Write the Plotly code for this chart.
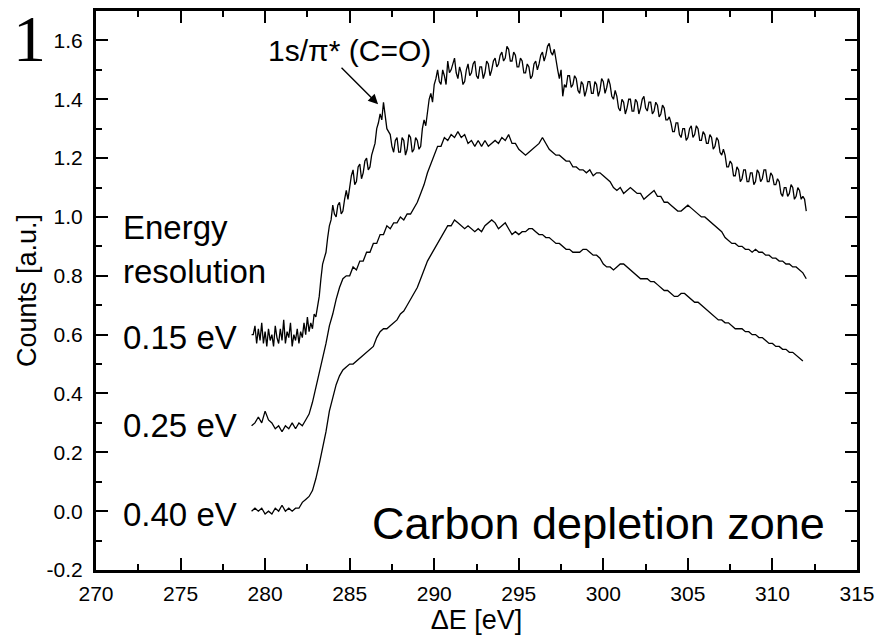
import numpy as np
import plotly.graph_objects as go

# ---------------- data ----------------
E_START = 279.2        # eV, first sample of every spectrum
E_STEP_015 = 0.1       # eV, reading step for the noisy 0.15 eV spectrum
E_STEP = 0.2           # eV, reading step for the two smoother spectra

# 0.15 eV energy resolution (top spectrum), 279.2 ... 312.0 eV
counts_015 = [
    0.60, 0.60, 0.63, 0.57, 0.62, 0.58, 0.64, 0.57, 0.61, 0.56,
    0.62, 0.58, 0.60, 0.56, 0.63, 0.59, 0.57, 0.62, 0.58, 0.65,
    0.57, 0.61, 0.59, 0.64, 0.56, 0.60, 0.58, 0.62, 0.57, 0.61,
    0.59, 0.64, 0.60, 0.66, 0.61, 0.64, 0.62, 0.67, 0.66, 0.70,
    0.73, 0.79, 0.84, 0.86, 0.88, 0.93, 0.97, 0.99, 1.04, 1.01,
    1.00, 1.04, 1.05, 1.01, 1.02, 1.06, 1.09, 1.06, 1.11, 1.14,
    1.16, 1.11, 1.12, 1.17, 1.18, 1.13, 1.15, 1.19, 1.20, 1.16,
    1.17, 1.21, 1.23, 1.25, 1.30, 1.32, 1.35, 1.33, 1.39, 1.34,
    1.30, 1.29, 1.28, 1.24, 1.22, 1.26, 1.27, 1.22, 1.22, 1.27,
    1.26, 1.21, 1.23, 1.28, 1.27, 1.22, 1.23, 1.27, 1.26, 1.23,
    1.24, 1.30, 1.33, 1.31, 1.36, 1.40, 1.42, 1.39, 1.45, 1.47,
    1.50, 1.46, 1.45, 1.50, 1.48, 1.45, 1.53, 1.49, 1.50, 1.52,
    1.54, 1.49, 1.47, 1.51, 1.49, 1.45, 1.46, 1.50, 1.52, 1.48,
    1.49, 1.52, 1.53, 1.48, 1.47, 1.51, 1.51, 1.47, 1.49, 1.53,
    1.52, 1.48, 1.50, 1.53, 1.54, 1.51, 1.52, 1.55, 1.56, 1.53,
    1.54, 1.58, 1.57, 1.53, 1.53, 1.56, 1.55, 1.51, 1.51, 1.54,
    1.53, 1.49, 1.49, 1.52, 1.51, 1.47, 1.48, 1.52, 1.53, 1.50,
    1.52, 1.55, 1.56, 1.53, 1.55, 1.58, 1.59, 1.56, 1.55, 1.57,
    1.53, 1.50, 1.47, 1.50, 1.41, 1.45, 1.44, 1.48, 1.48, 1.44,
    1.45, 1.48, 1.47, 1.43, 1.42, 1.46, 1.45, 1.41, 1.43, 1.46,
    1.46, 1.42, 1.42, 1.46, 1.45, 1.41, 1.43, 1.47, 1.46, 1.42,
    1.44, 1.47, 1.45, 1.41, 1.40, 1.43, 1.41, 1.37, 1.36, 1.40,
    1.39, 1.35, 1.37, 1.40, 1.40, 1.36, 1.36, 1.40, 1.39, 1.35,
    1.37, 1.40, 1.41, 1.37, 1.36, 1.39, 1.39, 1.35, 1.36, 1.39,
    1.38, 1.34, 1.35, 1.38, 1.37, 1.33, 1.33, 1.34, 1.32, 1.29,
    1.29, 1.32, 1.32, 1.28, 1.27, 1.30, 1.30, 1.26, 1.27, 1.30,
    1.31, 1.27, 1.28, 1.31, 1.30, 1.26, 1.26, 1.29, 1.28, 1.25,
    1.25, 1.28, 1.27, 1.23, 1.24, 1.27, 1.26, 1.22, 1.21, 1.23,
    1.21, 1.17, 1.17, 1.19, 1.18, 1.14, 1.14, 1.17, 1.16, 1.12,
    1.13, 1.16, 1.16, 1.12, 1.12, 1.15, 1.15, 1.11, 1.12, 1.16,
    1.15, 1.12, 1.13, 1.16, 1.16, 1.12, 1.12, 1.15, 1.14, 1.11,
    1.11, 1.13, 1.12, 1.08, 1.07, 1.10, 1.10, 1.07, 1.08, 1.11,
    1.10, 1.06, 1.07, 1.10, 1.09, 1.06, 1.07, 1.06, 1.02,
]

# 0.25 eV energy resolution (middle spectrum), 279.2 ... 312.0 eV
counts_025 = [
    0.29, 0.30, 0.32, 0.30, 0.34, 0.31, 0.30, 0.28, 0.29, 0.27,
    0.29, 0.28, 0.30, 0.28, 0.30, 0.29, 0.31, 0.33, 0.37, 0.42,
    0.46, 0.52, 0.57, 0.63, 0.67, 0.72, 0.76, 0.79, 0.80, 0.80,
    0.83, 0.82, 0.85, 0.85, 0.88, 0.88, 0.91, 0.91, 0.94, 0.94,
    0.97, 0.96, 0.98, 0.98, 1.00, 0.99, 1.01, 1.01, 1.03, 1.05,
    1.08, 1.11, 1.15, 1.18, 1.21, 1.24, 1.24, 1.27, 1.26, 1.28,
    1.27, 1.29, 1.27, 1.28, 1.25, 1.26, 1.24, 1.26, 1.24, 1.26,
    1.24, 1.25, 1.26, 1.25, 1.27, 1.26, 1.28, 1.25, 1.25, 1.23,
    1.22, 1.21, 1.22, 1.23, 1.24, 1.25, 1.27, 1.25, 1.23, 1.22,
    1.21, 1.21, 1.20, 1.19, 1.19, 1.17, 1.17, 1.16, 1.16, 1.15,
    1.16, 1.14, 1.15, 1.15, 1.14, 1.13, 1.12, 1.10, 1.09, 1.10,
    1.08, 1.09, 1.10, 1.09, 1.08, 1.08, 1.06, 1.07, 1.08, 1.09,
    1.07, 1.07, 1.05, 1.05, 1.04, 1.03, 1.02, 1.02, 1.03, 1.04,
    1.03, 1.02, 1.01, 1.00, 1.00, 0.99, 0.98, 0.97, 0.96, 0.95,
    0.93, 0.92, 0.91, 0.91, 0.90, 0.90, 0.89, 0.89, 0.88, 0.89,
    0.88, 0.88, 0.87, 0.87, 0.86, 0.86, 0.85, 0.85, 0.84, 0.84,
    0.83, 0.83, 0.82, 0.81, 0.79,
]

# 0.40 eV energy resolution (bottom spectrum), 279.2 ... 311.8 eV
counts_040 = [
    0.00, 0.01, 0.00, 0.01, -0.01, 0.00, -0.01, 0.01, 0.00, 0.02,
    0.00, 0.01, 0.00, 0.01, 0.01, 0.03, 0.04, 0.05, 0.07, 0.11,
    0.16, 0.21, 0.27, 0.34, 0.39, 0.43, 0.46, 0.48, 0.49, 0.50,
    0.50, 0.51, 0.52, 0.53, 0.54, 0.55, 0.56, 0.59, 0.61, 0.62,
    0.62, 0.63, 0.64, 0.65, 0.67, 0.68, 0.70, 0.72, 0.74, 0.76,
    0.79, 0.82, 0.85, 0.87, 0.89, 0.91, 0.93, 0.95, 0.97, 0.97,
    0.99, 0.98, 0.97, 0.96, 0.97, 0.96, 0.95, 0.96, 0.95, 0.97,
    0.98, 0.99, 0.98, 0.96, 0.97, 0.98, 0.96, 0.94, 0.95, 0.94,
    0.95, 0.95, 0.96, 0.96, 0.95, 0.94, 0.94, 0.93, 0.93, 0.92,
    0.91, 0.91, 0.90, 0.89, 0.89, 0.88, 0.88, 0.88, 0.89, 0.89,
    0.88, 0.87, 0.87, 0.86, 0.84, 0.83, 0.83, 0.82, 0.83, 0.84,
    0.84, 0.83, 0.82, 0.81, 0.80, 0.79, 0.79, 0.79, 0.78, 0.78,
    0.77, 0.76, 0.75, 0.75, 0.74, 0.73, 0.73, 0.74, 0.74, 0.73,
    0.72, 0.71, 0.71, 0.70, 0.69, 0.68, 0.67, 0.66, 0.65, 0.65,
    0.64, 0.64, 0.63, 0.62, 0.62, 0.62, 0.61, 0.61, 0.60, 0.60,
    0.59, 0.59, 0.58, 0.57, 0.57, 0.56, 0.56, 0.55, 0.55, 0.54,
    0.54, 0.53, 0.52, 0.51,
]

resolution_labels = ["0.15 eV", "0.25 eV", "0.40 eV"]
label_levels = [0.60, 0.30, 0.00]

x_tickvals = [270, 275, 280, 285, 290, 295, 300, 305, 310, 315]
x_ticktext = ["270", "275", "280", "285", "290", "295", "300", "305", "310", "315"]
y_tickvals = [-0.2, 0.0, 0.2, 0.4, 0.6, 0.8, 1.0, 1.2, 1.4, 1.6]
y_ticktext = ["-0.2", "0.0", "0.2", "0.4", "0.6", "0.8", "1.0", "1.2", "1.4", "1.6"]

peak_energy, peak_counts = 286.68, 1.383     # 1s/pi* (C=O) feature
arrow_tail = (284.43, 1.512)

# ---------------- figure ----------------
FONT = "Liberation Sans, Arial, sans-serif"


def energies(n, step):
    return np.round(E_START + step * np.arange(n), 2)


fig = go.Figure()
for series, step in ((counts_015, E_STEP_015),
                     (counts_025, E_STEP),
                     (counts_040, E_STEP)):
    fig.add_trace(go.Scatter(
        x=energies(len(series), step), y=series, mode="lines",
        line=dict(color="black", width=1.3), showlegend=False,
        hoverinfo="skip",
    ))

axis_common = dict(
    showline=True, linecolor="black", linewidth=3, mirror="ticks",
    ticks="inside", ticklen=12, tickwidth=2, tickcolor="black",
    showgrid=False, zeroline=False,
    tickfont=dict(family=FONT, size=21, color="black"),
)

fig.update_xaxes(
    range=[270, 315], tickmode="array", tickvals=x_tickvals, ticktext=x_ticktext,
    minor=dict(tickmode="linear", tick0=270, dtick=2.5, ticks="inside",
               ticklen=6, tickwidth=2, tickcolor="black"),
    title=dict(text="ΔE [eV]", font=dict(family=FONT, size=27, color="black"),
               standoff=4),
    ticklabelstandoff=3,
    **axis_common,
)
fig.update_yaxes(
    range=[-0.2, 1.7], tickmode="array", tickvals=y_tickvals, ticktext=y_ticktext,
    minor=dict(tickmode="linear", tick0=-0.2, dtick=0.1, ticks="inside",
               ticklen=6, tickwidth=2, tickcolor="black"),
    title=dict(text="Counts [a.u.]", font=dict(family=FONT, size=27, color="black"),
               standoff=3),
    ticklabelstandoff=6,
    **axis_common,
)

LABEL_X = 271.45
annotations = []
for lab, lvl in zip(resolution_labels, label_levels):
    annotations.append(dict(
        x=LABEL_X, y=lvl, xref="x", yref="y", text=lab, showarrow=False,
        xanchor="left", yanchor="middle", yshift=-3,
        font=dict(family=FONT, size=33, color="black"),
    ))
annotations.append(dict(
    x=LABEL_X, y=0.973, xref="x", yref="y", text="Energy", showarrow=False,
    xanchor="left", yanchor="middle", yshift=-3,
    font=dict(family=FONT, size=33, color="black"),
))
annotations.append(dict(
    x=LABEL_X, y=0.824, xref="x", yref="y", text="resolution", showarrow=False,
    xanchor="left", yanchor="middle", yshift=-3,
    font=dict(family=FONT, size=33, color="black"),
))
annotations.append(dict(
    x=313.25, y=-0.03, xref="x", yref="y", text="Carbon depletion zone",
    showarrow=False, xanchor="right", yanchor="middle", yshift=-4,
    font=dict(family=FONT, size=45, color="black"),
))
annotations.append(dict(
    x=280.05, y=1.576, xref="x", yref="y", text="1s/π* (C=O)",
    showarrow=False, xanchor="left", yanchor="middle", yshift=-3,
    font=dict(family=FONT, size=30, color="black"),
))
annotations.append(dict(
    x=peak_energy, y=peak_counts, xref="x", yref="y", text="",
    showarrow=True, axref="x", ayref="y", ax=arrow_tail[0], ay=arrow_tail[1],
    arrowhead=2, arrowsize=1.4, arrowwidth=1.4, arrowcolor="black", standoff=0,
))
annotations.append(dict(
    x=-0.088, y=1.02, xref="paper", yref="paper", text="1", showarrow=False,
    xanchor="center", yanchor="top",
    font=dict(family="Liberation Serif, Times New Roman, serif", size=66, color="black"),
))

fig.update_layout(
    width=880, height=640,
    margin=dict(l=96, r=23, t=11, b=70, autoexpand=False),
    paper_bgcolor="white", plot_bgcolor="white",
    annotations=annotations,
    font=dict(family=FONT, color="black"),
)

fig.write_html("out.html")
